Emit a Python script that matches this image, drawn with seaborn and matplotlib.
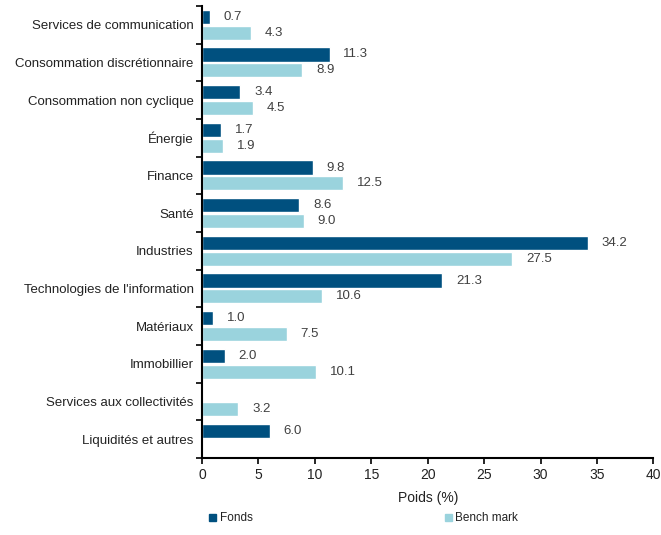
import numpy as np
import matplotlib
matplotlib.use('Agg')
import matplotlib.pyplot as plt
import pandas as pd
import seaborn as sns

categories = [
    'Services de communication', 'Consommation discrétionnaire',
    'Consommation non cyclique', 'Énergie', 'Finance', 'Santé',
    'Industries', "Technologies de l'information", 'Matériaux',
    'Immobillier', 'Services aux collectivités', 'Liquidités et autres',
]
fonds = [0.7, 11.3, 3.4, 1.7, 9.8, 8.6, 34.2, 21.3, 1.0, 2.0, np.nan, 6.0]
benchmark = [4.3, 8.9, 4.5, 1.9, 12.5, 9.0, 27.5, 10.6, 7.5, 10.1, 3.2, np.nan]
series = ['Fonds', 'Bench mark']
colors = ['#00507F', '#9AD3DD']

df = pd.DataFrame({
    'category': categories * 2,
    'serie': [series[0]] * len(categories) + [series[1]] * len(categories),
    'value': fonds + benchmark,
})

sns.set_style('white')
plt.rcParams['font.family'] = ['Liberation Sans', 'DejaVu Sans']

fig = plt.figure(figsize=(6.61, 5.35), dpi=100)
ax = fig.add_axes([0.3056, 0.144, 0.683, 0.845])

sns.barplot(data=df, x='value', y='category', hue='serie', order=categories,
            hue_order=series, palette=colors, orient='h', width=0.84, gap=0.1,
            errorbar=None, ax=ax, saturation=1)

for cont in ax.containers:
    ax.bar_label(cont, fmt='%.1f', padding=10, fontsize=9.5, color='#404040')

ax.set_xlim(0, 40)
ax.set_xticks(range(0, 41, 5))
ax.set_ylim(len(categories) - 0.5, -0.5)
ax.set_yticks(np.arange(len(categories) + 1) - 0.5, minor=True)
ax.tick_params(axis='y', which='major', length=0, labelsize=9.5, colors='#222222', pad=6)
ax.tick_params(axis='y', which='minor', length=4, width=1.2, color='black', direction='out', left=True)
ax.tick_params(axis='x', which='major', length=4, width=1.2, color='black', direction='out',
               bottom=True, labelsize=10, labelcolor='#222222')
for s in ['top', 'right']:
    ax.spines[s].set_visible(False)
for s in ['left', 'bottom']:
    ax.spines[s].set_color('black')
    ax.spines[s].set_linewidth(1.5)

ax.set_ylabel('')
ax.set_xlabel('Poids (%)', fontsize=10, color='#222222', labelpad=6)

ax.get_legend().remove()
handles = [plt.Rectangle((0, 0), 1, 1, color=c) for c in colors]
fig.legend(handles, series, loc='lower left', bbox_to_anchor=(0.3, 0.0, 0.5, 0.05),
           mode='expand', ncol=2, frameon=False, fontsize=8.5, handlelength=0.6,
           handleheight=0.5, handletextpad=0.3, labelcolor='#222222')

fig.savefig('out.png', dpi=100)
